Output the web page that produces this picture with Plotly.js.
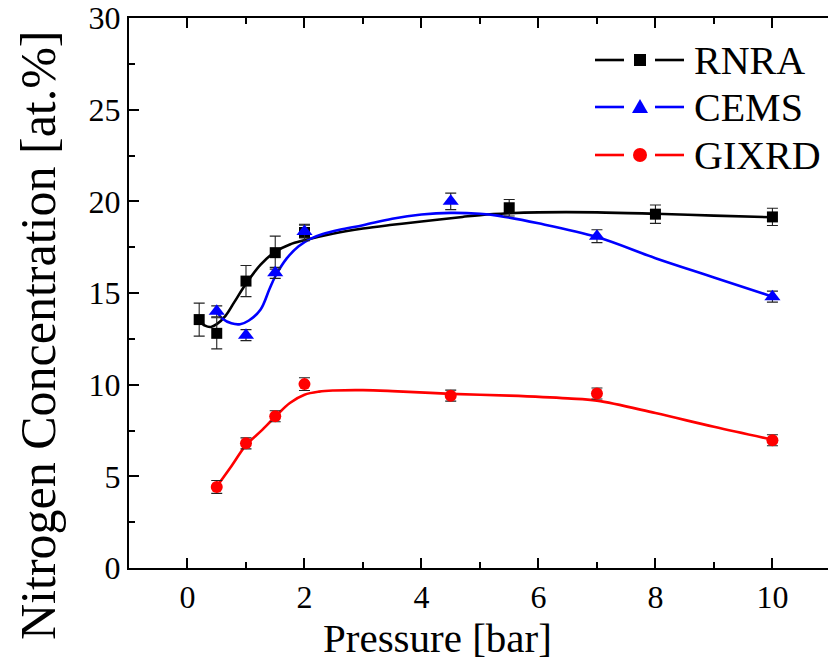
<!DOCTYPE html>
<html>
<head>
<meta charset="utf-8">
<script src="https://cdn.plot.ly/plotly-3.0.1.min.js"></script>
<style>
#chart text { font-family: 'Liberation Serif' !important; }
</style>
</head>
<body style="margin:0">
<div id="chart" style="width:828px;height:662px"></div>
<script>
// ---- measured points ----
var rnraX = [0.2, 0.5, 1, 1.5, 2, 5.5, 8, 10];
var rnraY = [13.55, 12.8, 15.65, 17.2, 18.3, 19.65, 19.3, 19.15];
var rnraErr = [0.9, 0.85, 0.85, 0.9, 0.45, 0.45, 0.5, 0.47];

var cemsX = [0.5, 1, 1.5, 2, 4.5, 7, 10];
var cemsY = [14.0, 12.7, 16.1, 18.35, 20.0, 18.1, 14.8];
var cemsErr = [0.3, 0.3, 0.3, 0.35, 0.45, 0.35, 0.3];

var gixX = [0.5, 1, 1.5, 2, 4.5, 7, 10];
var gixY = [4.42, 6.8, 8.28, 10.03, 9.4, 9.52, 6.97];
var gixErr = [0.35, 0.3, 0.3, 0.35, 0.3, 0.3, 0.3];

// ---- fitted curves ----
var rnraFitX = [0.2, 0.3, 0.4, 0.5, 0.65, 0.8, 1.0, 1.25, 1.5, 1.75, 2.0, 2.5, 3.0, 3.5, 4.0, 4.7, 5.0, 5.5, 6.0, 7.0, 8.0, 9.0, 10.0];
var rnraFitY = [13.5, 13.22, 13.15, 13.3, 13.75, 14.5, 15.5, 16.55, 17.25, 17.65, 17.88, 18.25, 18.52, 18.72, 18.9, 19.15, 19.25, 19.35, 19.4, 19.4, 19.32, 19.22, 19.13];

var cemsFitX = [0.5, 0.6, 0.75, 0.9, 1.05, 1.25, 1.4, 1.5, 1.7, 1.9, 2.1, 2.3, 2.6, 3.0, 3.5, 4.0, 4.5, 5.0, 5.3, 6.0, 7.0, 8.0, 9.0, 10.0];
var cemsFitY = [14.0, 13.6, 13.35, 13.3, 13.5, 14.1, 15.2, 15.9, 16.9, 17.55, 17.95, 18.2, 18.45, 18.7, 19.05, 19.28, 19.37, 19.32, 19.22, 18.8, 18.05, 16.9, 15.85, 14.8];

var gixFitX = [0.5, 0.75, 1.0, 1.25, 1.5, 1.75, 2.0, 2.25, 2.5, 3.0, 3.5, 4.5, 5.5, 6.5, 7.0, 8.0, 9.0, 10.0];
var gixFitY = [4.44, 5.55, 6.7, 7.45, 8.25, 9.0, 9.45, 9.62, 9.68, 9.7, 9.65, 9.5, 9.4, 9.25, 9.13, 8.45, 7.7, 7.0];

var seriesNames = ['RNRA', 'CEMS', 'GIXRD'];
var seriesColors = ['#000000', '#0000ff', '#ff0000'];

var xTickVals = [0, 2, 4, 6, 8, 10];
var yTickVals = [0, 5, 10, 15, 20, 25, 30];

(function () {
  var fam = 'Liberation Serif';

  function fitTrace(x, y, c) {
    return {x: x, y: y, type: 'scatter', mode: 'lines', showlegend: false, hoverinfo: 'skip',
      line: {color: c, width: 2.6, shape: 'spline', smoothing: 1.0}};
  }
  function ptTrace(x, y, e, c, sym, sz, name) {
    return {x: x, y: y, type: 'scatter', mode: 'markers', name: name, showlegend: false,
      marker: {color: c, symbol: sym, size: sz, line: {width: 0}},
      error_y: {type: 'data', array: e, visible: true, color: '#222', thickness: 1.1, width: 5.5}};
  }

  var traces = [
    fitTrace(rnraFitX, rnraFitY, seriesColors[0]),
    fitTrace(cemsFitX, cemsFitY, seriesColors[1]),
    fitTrace(gixFitX, gixFitY, seriesColors[2]),
    ptTrace(rnraX, rnraY, rnraErr, seriesColors[0], 'square', 11, seriesNames[0]),
    ptTrace(cemsX, cemsY, cemsErr, seriesColors[1], 'triangle-up', 14, seriesNames[1]),
    ptTrace(gixX, gixY, gixErr, seriesColors[2], 'circle', 12, seriesNames[2])
  ];

  var figW = 828, figH = 662, mL = 129, mR = 0, mT = 18, mB = 94;
  var pw = figW - mL - mR, ph = figH - mT - mB;
  function toPX(xp) { return (xp - mL) / pw; }
  function toPY(yp) { return (figH - mB - yp) / ph; }

  var legRows = [60, 107, 155];
  var shp = [], anns = [];
  for (var i = 0; i < 3; i++) {
    var yy = toPY(legRows[i]);
    var c = seriesColors[i];
    shp.push({type: 'line', xref: 'paper', yref: 'paper', x0: toPX(595), x1: toPX(624), y0: yy, y1: yy, line: {color: c, width: 2.6}});
    shp.push({type: 'line', xref: 'paper', yref: 'paper', x0: toPX(655), x1: toPX(684), y0: yy, y1: yy, line: {color: c, width: 2.6}});
    var base = {xref: 'paper', yref: 'paper', xsizemode: 'pixel', ysizemode: 'pixel', xanchor: toPX(640), yanchor: yy,
      fillcolor: c, line: {width: 0}};
    var s;
    if (i === 0) s = {type: 'rect', x0: -6, x1: 6, y0: -6, y1: 6};
    if (i === 1) s = {type: 'path', path: 'M0,8 L8,-6 L-8,-6 Z'};
    if (i === 2) s = {type: 'circle', x0: -7, x1: 7, y0: -7, y1: 7};
    for (var k in base) s[k] = base[k];
    shp.push(s);
    anns.push({text: seriesNames[i], xref: 'paper', yref: 'paper', x: toPX(692), y: yy,
      xanchor: 'left', yanchor: 'middle', showarrow: false, font: {family: fam, size: 40, color: '#000'}});
  }

  anns.push({text: 'Pressure [bar]', xref: 'paper', yref: 'paper', x: toPX(437), y: toPY(638),
    xanchor: 'center', yanchor: 'middle', showarrow: false, font: {family: fam, size: 41, color: '#000'}});
  anns.push({text: 'Nitrogen Concentration [at.%]', xref: 'paper', yref: 'paper', x: toPX(38), y: toPY(335),
    xanchor: 'center', yanchor: 'middle', textangle: -90, showarrow: false, font: {family: fam, size: 50, color: '#000'}});

  var lay = {
    width: figW, height: figH,
    margin: {l: mL, r: mR, t: mT, b: mB, pad: 0},
    paper_bgcolor: '#fff', plot_bgcolor: '#fff',
    showlegend: false,
    font: {family: fam, color: '#000'},
    xaxis: {
      range: [-1, 10.95], showgrid: false, zeroline: false,
      showline: true, linecolor: '#000', linewidth: 2, mirror: 'ticks',
      ticks: 'inside', ticklen: 10, tickwidth: 2, tickcolor: '#000',
      tickvals: xTickVals, ticktext: xTickVals.map(String),
      tickfont: {family: fam, size: 32, color: '#000'},
      minor: {dtick: 1, tick0: 0, ticks: 'inside', ticklen: 6, tickwidth: 2, tickcolor: '#000', showgrid: false},
      automargin: false
    },
    yaxis: {
      range: [0, 30], showgrid: false, zeroline: false,
      showline: true, linecolor: '#000', linewidth: 2,
      ticks: 'inside', ticklen: 10, tickwidth: 2, tickcolor: '#000',
      tickvals: yTickVals, ticktext: yTickVals.map(String),
      tickfont: {family: fam, size: 32, color: '#000'},
      minor: {dtick: 2.5, tick0: 0, ticks: 'inside', ticklen: 6, tickwidth: 2, tickcolor: '#000', showgrid: false},
      automargin: false
    },
    shapes: shp,
    annotations: anns
  };

  Plotly.newPlot('chart', traces, lay, {displayModeBar: false});
})();
</script>
</body>
</html>
